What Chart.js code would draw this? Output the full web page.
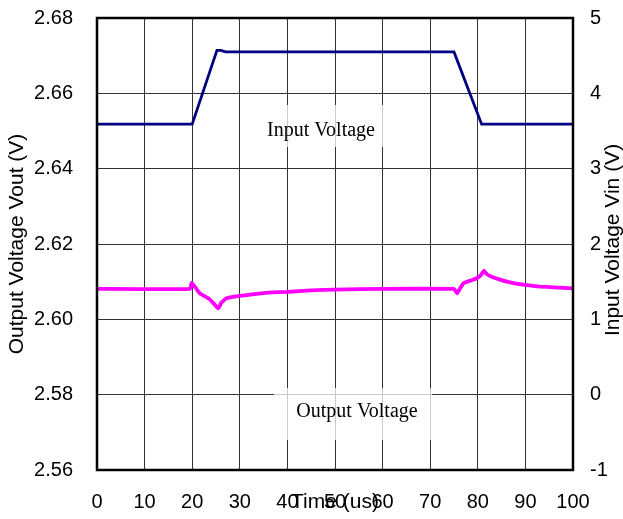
<!DOCTYPE html>
<html>
<head>
<meta charset="utf-8">
<script src="https://cdn.jsdelivr.net/npm/chart.js@4"></script>
<style>
  body { margin: 0; background: #fff; }
  #wrap { width: 623px; height: 519px; }
</style>
</head>
<body>
<div id="wrap"><canvas id="chart" width="623" height="519"></canvas></div>
<script>
// time (us) and voltages
const inTime  = [0, 20, 25.2, 26, 27, 75, 80.8, 100];
const inVolts = [3.59, 3.59, 4.57, 4.57, 4.55, 4.55, 3.59, 3.59];

const outTime  = [0, 19.5, 19.9, 20.6, 21.6, 23.7, 25.5, 26.1, 27.2, 30, 33, 36, 40, 45, 50, 60, 75, 75.3, 75.6, 76.1, 77, 78.5, 79.8, 80.7, 81.3, 81.9, 82.9, 84.5, 86.1, 88, 90.3, 93, 95.9, 100];
const outVolts = [2.6081, 2.6081, 2.6097, 2.6086, 2.6069, 2.6053, 2.6029, 2.6044, 2.6056, 2.6062, 2.6067, 2.6071, 2.6073, 2.6077, 2.6079, 2.6081, 2.6081, 2.6076, 2.6069, 2.6078, 2.6096, 2.6103, 2.6109, 2.6118, 2.6129, 2.6120, 2.6113, 2.6106, 2.6100, 2.6095, 2.6091, 2.6087, 2.6085, 2.6082];

const xTicks = [0, 10, 20, 30, 40, 50, 60, 70, 80, 90, 100];
const leftTicks = [2.56, 2.58, 2.60, 2.62, 2.64, 2.66, 2.68];
const rightTicks = [-1, 0, 1, 2, 3, 4, 5];

const toPoints = (xs, ys) => xs.map((x, i) => ({ x: x, y: ys[i] }));

const sansFont = "'Liberation Sans', Arial, sans-serif";
const serifFont = "'Liberation Serif', 'Times New Roman', serif";

// text boxes, axis titles that overlap the ticks and the frame are drawn by hand
const decorPlugin = {
  id: "decor",
  beforeDatasetsDraw(chart) {
    const ctx = chart.ctx;
    ctx.save();
    ctx.fillStyle = "rgba(255,255,255,0.75)";
    ctx.fillRect(263, 105, 122, 42);
    ctx.fillRect(274, 388, 158, 52);
    ctx.restore();
  },
  afterDatasetsDraw(chart) {
    const ctx = chart.ctx;
    const a = chart.chartArea;
    ctx.save();
    ctx.fillStyle = "#000";
    ctx.font = "20px " + serifFont;
    ctx.textAlign = "center";
    ctx.textBaseline = "middle";
    ctx.fillText("Input Voltage", 321, 131);
    ctx.fillText("Output Voltage", 357, 412);

    ctx.font = "21px " + sansFont;
    ctx.fillText("Time (us)", (a.left + a.right) / 2, 502);

    ctx.save();
    ctx.translate(613, 240);
    ctx.rotate(-Math.PI / 2);
    ctx.fillText("Input Voltage Vin (V)", 0, 0);
    ctx.restore();

    ctx.strokeStyle = "#000";
    ctx.lineWidth = 2.5;
    ctx.strokeRect(a.left, a.top, a.right - a.left, a.bottom - a.top);
    ctx.restore();
  }
};

new Chart(document.getElementById("chart"), {
  type: "line",
  data: {
    datasets: [
      {
        label: "Input Voltage",
        data: toPoints(inTime, inVolts),
        yAxisID: "y1",
        borderColor: "#000080",
        borderWidth: 2.8,
        pointRadius: 0,
        tension: 0
      },
      {
        label: "Output Voltage",
        data: toPoints(outTime, outVolts),
        yAxisID: "y",
        borderColor: "#ff00ff",
        borderWidth: 3.8,
        pointRadius: 0,
        tension: 0.1
      }
    ]
  },
  options: {
    responsive: false,
    animation: false,
    layout: { padding: { top: 18, left: 0, right: 0, bottom: 0 } },
    plugins: {
      legend: { display: false },
      tooltip: { enabled: false }
    },
    scales: {
      x: {
        type: "linear",
        min: 0,
        max: 100,
        afterBuildTicks: (s) => { s.ticks = xTicks.map(v => ({ value: v })); },
        afterFit: (s) => { s.height = 49; },
        grid: { color: "#333", lineWidth: 1, drawTicks: false },
        border: { display: false },
        ticks: { color: "#000", font: { family: sansFont, size: 20 }, padding: 20, maxRotation: 0 }
      },
      y: {
        position: "left",
        min: 2.56,
        max: 2.68,
        afterBuildTicks: (s) => { s.ticks = leftTicks.map(v => ({ value: v })); },
        afterFit: (s) => { s.width = 97; },
        grid: { color: "#333", lineWidth: 1, drawTicks: true, tickLength: 24, tickColor: "rgba(0,0,0,0)" },
        border: { display: false },
        ticks: {
          color: "#000",
          font: { family: sansFont, size: 20 },
          padding: 0,
          callback: (v) => v.toFixed(2)
        },
        title: {
          display: true,
          text: "Output Voltage Vout (V)",
          color: "#000",
          font: { family: sansFont, size: 21 },
          padding: { top: 5, bottom: 0 }
        }
      },
      y1: {
        position: "right",
        min: -1,
        max: 5,
        afterBuildTicks: (s) => { s.ticks = rightTicks.map(v => ({ value: v })); },
        afterFit: (s) => { s.width = 50; },
        grid: { display: true, drawOnChartArea: false, drawTicks: true, tickLength: 17, tickColor: "rgba(0,0,0,0)" },
        border: { display: false },
        ticks: { color: "#000", font: { family: sansFont, size: 20 }, padding: 0 }
      }
    }
  },
  plugins: [decorPlugin]
});
</script>
</body>
</html>
